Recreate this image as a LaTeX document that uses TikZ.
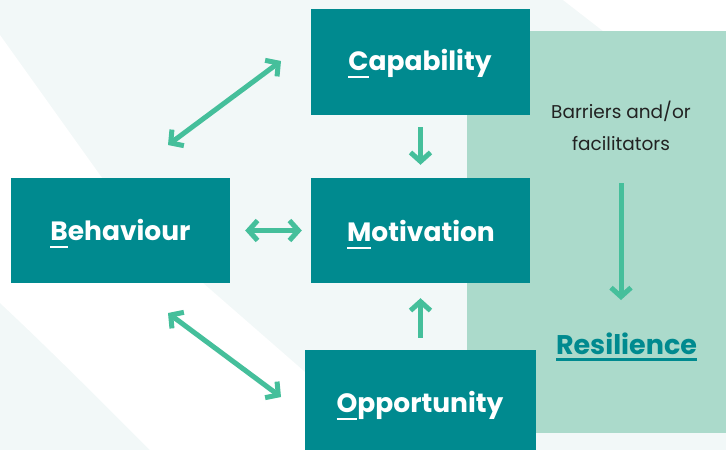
\documentclass[tikz,border=0pt]{standalone}
\usepackage{fontspec}
\setmainfont{Poppins}
\usetikzlibrary{arrows.meta}
\definecolor{boxteal}{HTML}{008A8F}
\definecolor{panelgreen}{HTML}{ABDACB}
\definecolor{arrowgreen}{HTML}{45BF9B}
\definecolor{lightbg}{HTML}{F2F8F8}
\definecolor{textdark}{HTML}{222222}
\newcommand\firstul[1]{\setbox0\hbox{#1}\rlap{\rule[-7.5pt]{\wd0}{2pt}}\box0}
\newcommand\fullul[1]{\setbox0\hbox{#1}\rlap{\rule[-6.5pt]{\wd0}{2.4pt}}\box0}
\begin{document}
\begin{tikzpicture}[x=1pt,y=-1pt,
  box/.style={fill=boxteal,draw=none,inner sep=0pt},
  boxtext/.style={text=white,font=\fontsize{26.5}{30}\selectfont\bfseries,inner sep=0pt,anchor=base},
  conn/.style={draw=arrowgreen,line width=5pt},
  tipA/.tip={Straight Barb[length=9pt,width=20pt]}
]
\useasboundingbox (0,0) rectangle (726,450);
% background
\fill[lightbg] (0,0) rectangle (726,450);
\fill[white] (0,35) -- (100,175) .. controls (140,231) and (165,250) .. (203,283)
  -- (305,372) -- (400,450) -- (150,450) .. controls (95,395) and (45,345) .. (0,303) -- cycle;
\fill[white] (563,0) -- (726,0) -- (726,31) -- (603,31) -- cycle;
% panel
\node[fill=panelgreen,draw=none,minimum width=259pt,minimum height=402pt,inner sep=0pt,anchor=north west] (panel) at (467,31) {};
% boxes
\node[box,minimum width=219pt,minimum height=106pt] (cap) at (420.5,62) {};
\node[box,minimum width=219pt,minimum height=105pt] (beh) at (120.5,230.5) {};
\node[box,minimum width=219pt,minimum height=105pt] (mot) at (420.5,230.5) {};
\node[box,minimum width=231pt,minimum height=100pt] (opp) at (420.5,400) {};
% texts
\node[boxtext] (captext) at (420,70) {\firstul{C}apability};
\node[boxtext] (behtext) at (120.5,240.5) {\firstul{B}ehaviour};
\node[boxtext] (mottext) at (421,241) {\firstul{M}otivation};
\node[boxtext] (opptext) at (420,412) {\firstul{O}pportunity};
\node[text=textdark,font=\fontsize{18.5}{32}\selectfont,inner sep=0pt,anchor=base] (barr1) at (621,118) {Barriers and/or};
\node[text=textdark,font=\fontsize{18.5}{32}\selectfont,inner sep=0pt,anchor=base] (barr2) at (621,150) {facilitators};
\node[text=boxteal,font=\fontsize{27}{30}\selectfont\bfseries,inner sep=0pt,anchor=base] (res) at (626.5,354) {\fullul{Resilience}};
% connectors
\coordinate (c1) at (168,145);
\coordinate (c2) at (281,61);
\coordinate (c3) at (168,313);
\coordinate (c4) at (281,397);
\coordinate (p1) at (621,183);
\coordinate (p2) at (621,300);
\draw[conn,{tipA}-{tipA}] (c1) -- (c2);
\draw[conn,{tipA}-{tipA}] (c3) -- (c4);
\draw[conn,{tipA}-{tipA},shorten <=15pt,shorten >=9pt] (beh.east) -- (mot.west);
\draw[conn,-{tipA},shorten <=12pt,shorten >=13pt] (cap.south) -- (mot.north);
\draw[conn,-{tipA},shorten <=12pt,shorten >=15pt] (opp.north) -- (mot.south);
\draw[conn,-{tipA}] (p1) -- (p2);
\end{tikzpicture}
\end{document}
